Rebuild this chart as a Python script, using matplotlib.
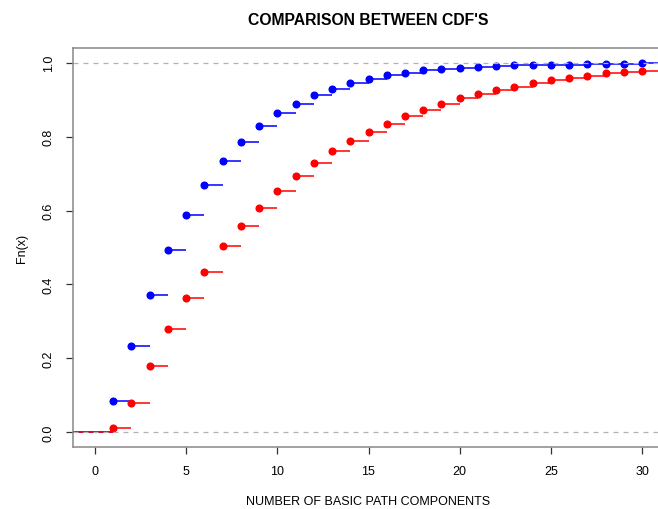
import numpy as np
import matplotlib.pyplot as plt

plt.rcParams['font.family'] = ['Liberation Sans', 'DejaVu Sans']

# number of basic path components (knots of both ecdfs)
components = list(range(1, 31))
cdf_blue = [0.085, 0.234, 0.372, 0.492, 0.588, 0.670, 0.735, 0.785, 0.830, 0.863,
            0.889, 0.912, 0.930, 0.946, 0.957, 0.966, 0.973, 0.980, 0.984, 0.985,
            0.988, 0.991, 0.993, 0.993, 0.994, 0.995, 0.997, 0.998, 0.998, 0.999]
cdf_red = [0.011, 0.079, 0.180, 0.280, 0.364, 0.435, 0.503, 0.557, 0.608, 0.653,
           0.694, 0.728, 0.760, 0.789, 0.813, 0.835, 0.855, 0.873, 0.889, 0.904,
           0.915, 0.927, 0.935, 0.944, 0.953, 0.959, 0.964, 0.971, 0.975, 0.977]
x_ticks = [0, 5, 10, 15, 20, 25, 30]
y_ticks = [0.0, 0.2, 0.4, 0.6, 0.8, 1.0]

fig = plt.figure(figsize=(6.58, 5.10), dpi=100)
ax = fig.add_axes([73 / 658, 62 / 510, 591 / 658, 399 / 510])


def step_plot(ax, x, y, col):
    x = np.asarray(x, float)
    y = np.asarray(y, float)
    starts = np.concatenate([[-100], x])
    ends = np.concatenate([x, [100]])
    levels = np.concatenate([[0], y])
    ax.hlines(levels, starts, ends, colors=col, lw=1.1)
    ax.plot(x, y, 'o', color=col, ms=4.8, mec=col)


step_plot(ax, components, cdf_blue, '#0000FF')
step_plot(ax, components, cdf_red, '#FF0000')

for h in (0, 1):
    ax.axhline(h, color='#B3B3B3', lw=0.9, ls=(0, (4, 4)))

ax.set_xlim(-1.2, 31.2)
ax.set_ylim(-0.04, 1.04)
ax.set_xticks(x_ticks)
ax.set_yticks(y_ticks)
ax.set_yticklabels(['%.1f' % v for v in y_ticks], rotation=90, va='center')
ax.tick_params(direction='out', length=5, width=0.9, labelsize=9, color='#333333', pad=8)

for s in ax.spines.values():
    s.set_color('#888888')
    s.set_linewidth(1.1)

ax.set_xlabel("NUMBER OF BASIC PATH COMPONENTS", fontsize=9, labelpad=13)
ax.set_ylabel("Fn(x)", fontsize=9, labelpad=11)
ax.set_title("COMPARISON BETWEEN CDF'S", fontsize=11.3, fontweight='bold', pad=17)

fig.savefig('out.png', dpi=100)
